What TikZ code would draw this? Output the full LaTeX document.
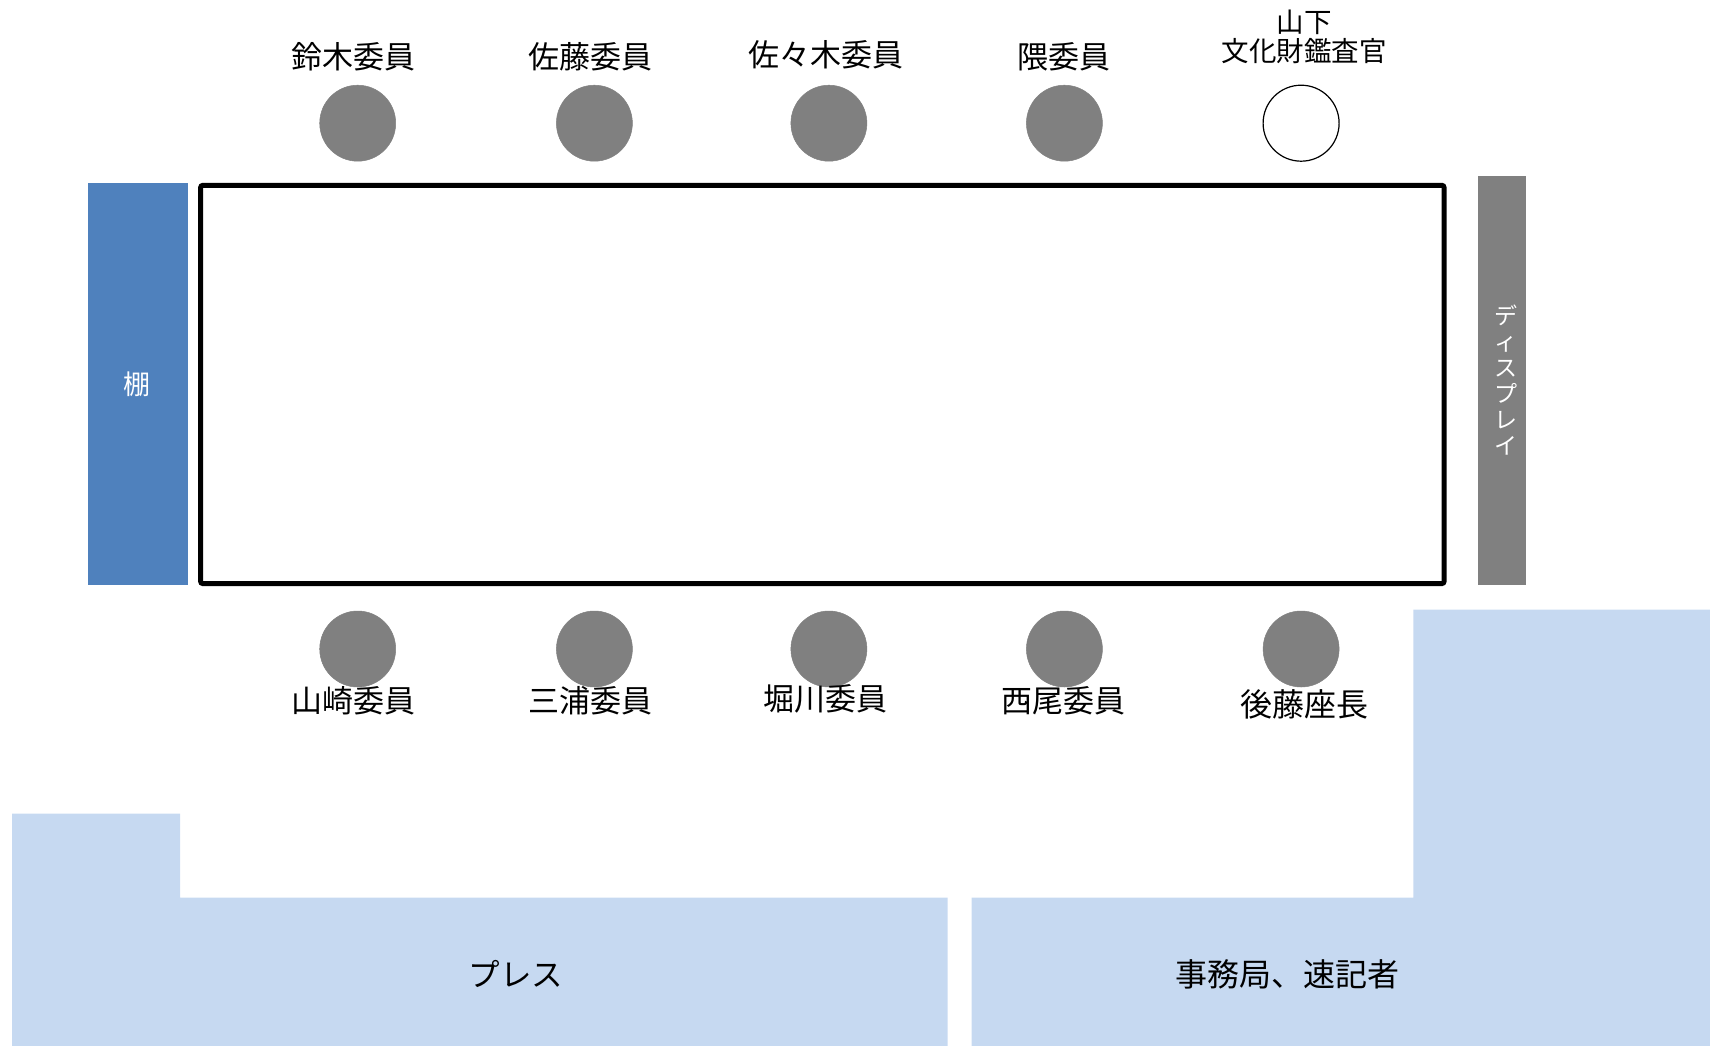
\documentclass[tikz,border=0pt]{standalone}
\usepackage{fontspec}
\setmainfont{Noto Sans CJK JP}
\definecolor{seatgray}{HTML}{808080}
\definecolor{shelfblue}{HTML}{4F81BD}
\definecolor{areablue}{HTML}{C6D9F1}
\begin{document}
\begin{tikzpicture}[x=1pt,y=-1pt,
  seat/.style={circle,fill=seatgray,draw=seatgray,line width=0.5pt,minimum size=76pt,inner sep=0pt},
  guest/.style={circle,fill=white,draw=black,line width=1.2pt,minimum size=76pt,inner sep=0pt},
  lbl/.style={font=\fontsize{31}{33}\selectfont,inner sep=0pt},
  smalllbl/.style={font=\fontsize{27.5}{29.5}\selectfont,inner sep=0pt,align=center},
  arealbl/.style={font=\fontsize{31.5}{33}\selectfont,inner sep=0pt},
  whitelbl/.style={text=white,inner sep=0pt}]
\useasboundingbox (0,0) rectangle (1710,1046);
% areas
\fill[areablue] (12,813.6) -- (180,813.6) -- (180,897.6) -- (947.7,897.6) -- (947.7,1046) -- (12,1046) -- cycle;
\fill[areablue] (971.7,897.6) -- (1413.4,897.6) -- (1413.4,609.6) -- (1710,609.6) -- (1710,1046) -- (971.7,1046) -- cycle;
% shelf
\node[fill=shelfblue,minimum width=99.3pt,minimum height=401.4pt,inner sep=0pt] (shelf) at (137.9,383.9) {};
\node[whitelbl,font=\fontsize{27}{29}\selectfont] (shelflbl) at (137.4,384) {棚};
% display
\node[fill=seatgray,minimum width=48pt,minimum height=409pt,inner sep=0pt] (display) at (1501.8,380.1) {};
\node[whitelbl,align=center,font=\fontsize{23}{26}\selectfont] (displbl) at (1506,380) {デ\\ィ\\ス\\プ\\レ\\イ};
% table
\draw[line width=5pt,rounded corners=2pt] (200.7,185.4) rectangle (1444,583.5);
% top seats
\node[seat] (t1) at (357.7,123.2) {};
\node[seat] (t2) at (594.4,123.2) {};
\node[seat] (t3) at (828.9,123.2) {};
\node[seat] (t4) at (1064.4,123.2) {};
\node[guest] (t5) at (1301.1,123.2) {};
% bottom seats
\node[seat] (b1) at (357.7,649) {};
\node[seat] (b2) at (594.4,649) {};
\node[seat] (b3) at (828.9,649) {};
\node[seat] (b4) at (1064.4,649) {};
\node[seat] (b5) at (1301.1,649) {};
% top labels
\node[lbl] (lt1) at (353,56.7) {鈴木委員};
\node[lbl] (lt2) at (590,56.7) {佐藤委員};
\node[lbl] (lt3) at (825.6,54.5) {佐々木委員};
\node[lbl] (lt4) at (1064.4,56.7) {隈委員};
\node[smalllbl] (lt5) at (1304,37) {山下\\文化財鑑査官};
% bottom labels
\node[lbl] (lb1) at (353,701) {山崎委員};
\node[lbl] (lb2) at (590,701) {三浦委員};
\node[lbl] (lb3) at (825.6,699) {堀川委員};
\node[lbl] (lb4) at (1063,701) {西尾委員};
\node[lbl,font=\fontsize{32}{34}\selectfont] (lb5) at (1304,704.5) {後藤座長};
% area labels
\node[arealbl] (press) at (515.9,974) {プレス};
\node[arealbl,font=\fontsize{32}{34}\selectfont] (office) at (1287,974) {事務局、速記者};
\end{tikzpicture}
\end{document}
